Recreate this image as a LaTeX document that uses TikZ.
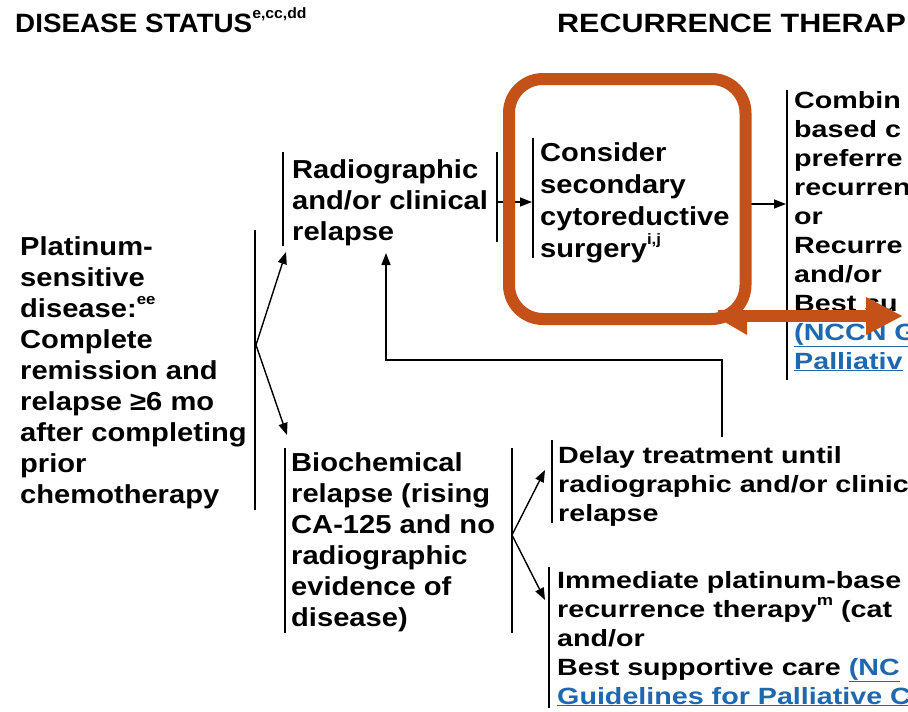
\documentclass[tikz,border=0pt]{standalone}
\usepackage{fontspec}
\usetikzlibrary{arrows.meta}
\setmainfont{Liberation Sans}
\newfontfamily\headfont[FakeStretch=1.05]{Liberation Sans}
\newfontfamily\wideheadfont[FakeStretch=1.15]{Liberation Sans}
\newfontfamily\bodyfont[FakeStretch=1.12]{Liberation Sans}
\newfontfamily\sidefont[FakeStretch=1.22]{Liberation Sans}
\definecolor{hl}{RGB}{195,81,24}
\definecolor{link}{RGB}{30,104,176}
% footnote marks and hyperlink-style text
\newcommand\fnref[1]{\raisebox{0.5em}{\fontsize{15}{15}\selectfont #1}}
\newcommand\lnk[1]{\textcolor{link}{\underline{#1}}}

\begin{document}
\begin{tikzpicture}[x=1pt,y=-1pt,
  headtxt/.style={anchor=base west,inner sep=0pt,font=\headfont\bfseries\fontsize{26.5}{31}\selectfont},
  txt/.style={anchor=base west,inner sep=0pt,align=left,font=\bodyfont\bfseries\fontsize{26}{31}\selectfont},
  sidetxt/.style={anchor=base west,inner sep=0pt,align=left,font=\sidefont\bfseries\fontsize{23.5}{29}\selectfont},
  bar/.style={line width=1.8pt,black},
  conn/.style={line width=1.4pt,black,-{Triangle[length=12pt,width=9pt]}},
  callout/.style={hl,line width=12pt},
]
\useasboundingbox (0,0) rectangle (908,712);
\clip (0,0) rectangle (908,712);

% column headings
\node[headtxt] (hd1) at (15,32) {DISEASE STATUS\fnref{e,cc,dd}};
\node[headtxt,font=\wideheadfont\bfseries\fontsize{26.5}{31}\selectfont] (hd2) at (557,32) {RECURRENCE THERAP};

% text blocks (anchored at the baseline of their last line)
\node[txt] (plat) at (20,503) {Platinum-\\sensitive\\disease:\fnref{ee}\\Complete\\remission and\\relapse ≥6 mo\\after completing\\prior\\chemotherapy};
\node[txt] (radio) at (292,240) {Radiographic\\and/or clinical\\relapse};
\node[txt,font=\bodyfont\bfseries\fontsize{26}{32}\selectfont] (cons) at (540,257) {Consider\\secondary\\cytoreductive\\surgery\fnref{i,j}};
\node[txt] (bio) at (291,626) {Biochemical\\relapse (rising\\CA-125 and no\\radiographic\\evidence of\\disease)};
\node[sidetxt] (combo) at (794,369) {Combin\\based c\\preferre\\recurren\\or\\Recurre\\and/or\\Best su\\\lnk{(NCCN G}\\\lnk{Palliativ}};
\node[sidetxt] (delay) at (558,521) {Delay treatment until\\radiographic and/or clinic\\relapse};
\node[sidetxt] (imm) at (557,704) {Immediate platinum-base\\recurrence therapy\fnref{m} (cat\\and/or\\Best supportive care \lnk{(NC}\\\lnk{Guidelines for Palliative C}};

% bracket bars
\coordinate (platT) at (255,230); \coordinate (platB) at (255,510);
\coordinate (radLT) at (283,152); \coordinate (radLB) at (283,246);
\coordinate (radRT) at (497,152); \coordinate (radRB) at (497,242);
\coordinate (consT) at (533,138); \coordinate (consB) at (533,258);
\coordinate (comT) at (787,90);   \coordinate (comB) at (787,380);
\coordinate (bioLT) at (285,448); \coordinate (bioLB) at (285,633);
\coordinate (bioRT) at (512,448); \coordinate (bioRB) at (512,633);
\coordinate (delT) at (552,440);  \coordinate (delB) at (552,523);
\coordinate (immT) at (549,567);  \coordinate (immB) at (549,708);
\foreach \a/\b in {platT/platB,radLT/radLB,radRT/radRB,consT/consB,comT/comB,
                   bioLT/bioLB,bioRT/bioRB,delT/delB,immT/immB}
  \draw[bar] (\a) -- (\b);

% connectors
\coordinate (fork1) at (256,345);
\coordinate (radIn) at (286,252);
\coordinate (bioIn) at (287,435);
\draw[conn] (fork1) -- (radIn);
\draw[conn] (fork1) -- (bioIn);

\coordinate (radOut) at (497,202);
\coordinate (consIn) at (532,202);
\draw[conn] (radOut) -- (consIn);

\coordinate (consOut) at (740,204);
\coordinate (comIn) at (786,204);
\draw[conn] (consOut) -- (comIn);

\coordinate (fork2) at (512,535);
\coordinate (delIn) at (545,470);
\coordinate (immIn) at (545,600);
\draw[conn] (fork2) -- (delIn);
\draw[conn] (fork2) -- (immIn);

\coordinate (delUp) at (722,437);
\coordinate (backIn) at (386,253);
\draw[conn] (delUp) -- (722,360) -| (backIn);

% highlight frame and pointer
\draw[callout,rounded corners=34pt] (509,79) rectangle (745.5,319);
\coordinate (hlStart) at (718,316);
\coordinate (hlEnd) at (903,316);
\draw[callout,-{Triangle[length=37pt,width=35pt]}] (hlStart) -- (hlEnd);
\fill[hl] (723,321) -- (747,335) -- (747,318) -- cycle;
\end{tikzpicture}
\end{document}
